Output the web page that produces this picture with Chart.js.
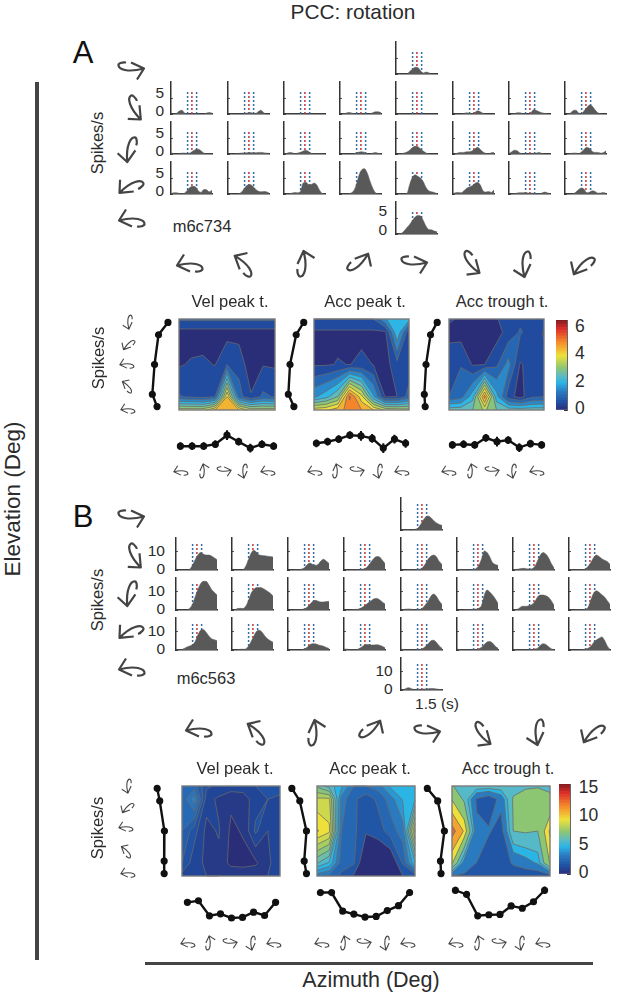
<!DOCTYPE html>
<html lang="en">
<head>
<meta charset="utf-8">
<title>PCC: rotation</title>
<script src="https://cdn.jsdelivr.net/npm/chart.js@4/dist/chart.umd.min.js"></script>
<style>
  html, body { margin: 0; padding: 0; background: #fff; }
  #lienzo { position: relative; width: 617px; height: 999px; overflow: hidden; font-family: "Liberation Sans", Arial, sans-serif; color: #2b2b2b; }
  #lienzo canvas, #lienzo svg { position: absolute; }
  .texto { position: absolute; white-space: nowrap; line-height: 1; }
  .barra { position: absolute; background: #444; }
</style>
</head>
<body>
<div id="lienzo"></div>
<script>
// ============================================================
// DATOS: ejes compartidos
// ============================================================
const elevaciones = [90, 45, 0, -45, -90];
const acimuts = [0, 45, 90, 135, 180, 225, 270, 315, 360];
const tiemposMarca = [0.81, 1.02, 1.25];
const etiquetasA = ['5', '0'];
const etiquetasB = ['10', '0'];
const ticksColorA = [0, 2, 4, 6];
const ticksColorB = [0, 5, 10, 15];
const nivelesA = [0.5, 1, 1.5, 2, 2.5, 3, 3.5, 4, 4.5, 5, 5.5, 6];
const nivelesB1 = [0.5, 1, 1.5, 2, 2.5, 3, 3.5, 4];
const nivelesB2 = [1.6, 2.4, 3.2, 4, 4.8, 5.6, 6.4, 7.2, 8, 8.8, 9.6, 10.4];
const nivelesB3 = [1.6, 3.2, 4.8, 5.8, 7.4, 9.6, 11.2, 12.8];

// ============================================================
// DATOS: PSTH de la neurona m6c734 (A)
// ============================================================
const psthA_arriba = [0, 0, 0, 0, 0, 0.8, 1.5, 2.1, 2, 1, 0.3, 0.6, 0.4, 0, 0, 0];
const psthA_fila1 = [
  [0, 0, 0.2, 0.9, 1.2, 0.3, 0, 0, 0.1, 0.1, 0, 0, 0, 0.3, 0.5, 0.3],
  [0, 0, 0, 0, 0, 0, 0.1, 0.3, 0.5, 0.3, 0.1, 0.7, 1.2, 0.5, 0, 0],
  [0, 0, 0, 0, 0, 0, 0, 0.1, 0.1, 0.1, 0, 0, 0, 0, 0, 0],
  [0, 0, 0.2, 0.5, 0.4, 0.1, 0, 0, 0.1, 0.1, 0, 0.1, 0.4, 0.7, 0.7, 0.4],
  [0, 0, 0, 0, 0, 0, 0, 0.1, 0.1, 0, 0, 0, 0, 0, 0, 0],
  [0, 0, 0, 0, 0.2, 0.4, 0.2, 0.1, 0.5, 1, 0.7, 0.2, 0, 0, 0, 0],
  [0, 0, 0.1, 0.4, 0.4, 0.1, 0, 0, 0.4, 1.3, 1.1, 0.7, 0.4, 0.2, 0.1, 0],
  [0, 0, 0.3, 1.1, 1.2, 0.3, 0.1, 1, 2, 2.8, 2.4, 1.3, 0.4, 0.1, 0, 0],
];
const psthA_fila2 = [
  [0.4, 0.1, 0, 0.1, 0.3, 0.3, 0.1, 0.3, 0.9, 1.4, 1.5, 1, 0.3, 0.1, 0.1, 0.1],
  [0, 0, 0, 0.1, 0.2, 0.3, 0.3, 0.4, 0.5, 0.4, 0.4, 0.5, 0.5, 0.4, 0.3, 0.2],
  [0, 0.2, 0.5, 0.4, 0.1, 0.3, 0.5, 0.9, 1.2, 0.8, 0.2, 0.1, 0.1, 0.1, 0.1, 0],
  [0, 0, 0, 0, 0, 0.1, 0.4, 0.6, 0.7, 0.5, 0.1, 0, 0.3, 0.5, 0.2, 0],
  [0, 0, 0.1, 0.3, 0.6, 1.2, 2, 2.4, 2.3, 1.6, 0.9, 0.3, 0.1, 0, 0, 0],
  [0, 0.1, 0.4, 0.5, 0.5, 0.7, 0.7, 1, 1.6, 2.1, 1.4, 0.6, 0.2, 0.1, 0.4, 0.5],
  [0.1, 0.7, 1.2, 1, 0.3, 0.1, 0, 0.1, 0.2, 0.2, 0.3, 0.5, 0.2, 0, 0, 0],
  [0, 0, 0.1, 0.3, 0.3, 0.1, 0.6, 1.5, 2.1, 1.7, 0.8, 0.5, 0.5, 0.3, 0.4, 1],
];
const psthA_fila3 = [
  [0.1, 0.4, 0.4, 0.2, 0.1, 0.3, 1.2, 2.1, 2.4, 2.2, 1, 0.5, 1.4, 1.3, 0.7, 1.2],
  [0, 0, 0, 0, 0.1, 0.6, 1.8, 2.7, 3, 2.5, 1.6, 0.9, 0.7, 0.8, 0.7, 0.3],
  [0, 0, 0.1, 0.3, 0.5, 0.4, 0.8, 3.4, 3.7, 3, 3, 3.4, 2.8, 1.2, 0.2, 0],
  [0, 0, 0, 0.1, 0.3, 1, 3, 6, 7.6, 7.9, 6.5, 4, 1.8, 0.4, 0.1, 0],
  [0, 0, 0, 0, 0.2, 3, 5.2, 6, 5.5, 5, 3.8, 2, 1, 0.7, 0.5, 0.1],
  [0.2, 0.4, 0.5, 0.4, 1, 1.8, 2.2, 2.6, 3.3, 3.7, 2.8, 1, 0.6, 0.8, 0.5, 1.3],
  [0, 0, 0.1, 0.3, 0.4, 0.4, 0.5, 0.3, 0.3, 0.2, 0.1, 0.1, 0.3, 0.6, 0.4, 0.1],
  [0, 0, 0, 0.1, 0.6, 1.4, 1.9, 1.5, 0.3, 0.6, 1, 0.8, 0.3, 0.3, 0.5, 0.2],
];
const psthA_abajo = [0, 0, 0.2, 1, 2, 3, 4.2, 5.3, 5.8, 5.6, 4.2, 2.4, 1.4, 1.3, 0.9, 0.7];

// ============================================================
// DATOS: PSTH de la neurona m6c563 (B)
// ============================================================
const psthB_arriba = [0.1, 0.1, 0.3, 0.2, 0.2, 0.3, 0.8, 2.5, 5, 7, 7.5, 6.5, 5, 3.8, 3, 2.5];
const psthB_fila1 = [
  [0, 0, 0, 0, 0, 0.4, 2.5, 5.5, 8, 9.4, 8.5, 8, 8, 7.5, 6.5, 5.5],
  [0, 0, 0, 0, 0.2, 2, 5.5, 9, 10.5, 9.5, 8, 7.8, 7.6, 7.4, 7.2, 7],
  [0, 0, 0, 0.1, 0.2, 0.5, 1.2, 2.8, 3.7, 3, 2.6, 3, 4.8, 5.8, 4.8, 3.5],
  [0, 0, 0, 0.1, 0.1, 0.2, 0.2, 0.5, 1, 2.5, 4.5, 6.3, 7.2, 7, 5.3, 3.5],
  [0, 0, 0, 0.1, 0.2, 0.2, 0.3, 0.5, 1.5, 3.5, 6, 7.5, 8, 7, 4.5, 3],
  [0.3, 0.3, 0.2, 0.2, 0.2, 0.2, 0.3, 0.8, 2.5, 6, 10.2, 9.3, 7, 4, 3, 2.5],
  [0.2, 0.3, 0.5, 0.8, 0.9, 0.7, 0.5, 0.7, 2, 5, 8, 9.3, 8.5, 6.5, 3.5, 1.2],
  [0, 0.1, 0.1, 0.2, 0.2, 0.2, 0.5, 2, 4, 6.5, 8, 7.2, 6, 5.2, 4.5, 3],
];
const psthB_fila2 = [
  [0, 0, 0, 0, 0, 1, 3, 7, 11, 14, 15.3, 15.3, 13.5, 11, 9.5, 8],
  [0, 0.1, 0.8, 0.9, 0.8, 2, 5, 9, 11, 12, 12, 11.8, 11, 10, 9, 7.5],
  [0, 0, 0, 0.1, 0.1, 0.3, 0.6, 1.5, 3, 4.5, 5.2, 4.7, 4.3, 4.3, 4.5, 4.6],
  [0, 0, 0, 0.2, 0.3, 0.4, 0.9, 1.7, 2.8, 4, 5, 6, 6.2, 5.5, 4.3, 3.2],
  [0.1, 0.3, 0.5, 0.6, 0.3, 0.1, 0.2, 0.4, 1.2, 3, 5, 7.5, 8.5, 7.2, 4.8, 3],
  [0, 0, 0, 0.2, 0.3, 0.3, 0.3, 0.5, 1, 2.5, 8, 10.7, 9.6, 8, 6, 3.5],
  [0.1, 0.2, 0.7, 1.8, 2, 2, 2.4, 3, 4.5, 7, 8, 8, 7.6, 6.8, 5, 2.5],
  [0, 0, 0, 0.1, 0.2, 0.2, 0.4, 1.5, 5.5, 9, 10.3, 9.5, 8.2, 7, 5, 3],
];
const psthB_fila3 = [
  [0.1, 0.2, 0.3, 0.8, 1.6, 2.2, 2.8, 4.5, 8, 10.5, 10.9, 9.5, 7.5, 6, 5.5, 5],
  [0, 0, 0.1, 0.4, 0.4, 0.6, 2, 4.5, 7.5, 10, 10.5, 9.5, 7.5, 6, 5, 4.2],
  [0, 0, 0, 0, 0, 0.2, 0.5, 1.5, 2.8, 3.4, 3.3, 2.8, 2.4, 2, 1.4, 0.8],
  [0.5, 0.5, 0.2, 0.1, 0.1, 0.4, 1.2, 2.2, 3, 3, 2.7, 2.7, 2.8, 2.6, 2, 1.2],
  [0.4, 0.3, 0.1, 0.1, 0.1, 0.1, 0.2, 0.4, 0.8, 2, 3.5, 5, 5.2, 4, 2.2, 1],
  [0.5, 0.2, 0.1, 0.1, 0.1, 0.1, 0.2, 0.3, 0.7, 1.5, 3, 4.3, 4.6, 3.7, 2, 1],
  [0.2, 0.1, 0.1, 0.1, 0.1, 0.2, 0.2, 0.3, 0.5, 1, 2.5, 3.4, 3, 1.8, 0.7, 0.1],
  [0, 0, 0, 0, 0.1, 0.2, 0.5, 1, 2, 4, 5.3, 6.3, 7, 5.2, 2.2, 0.3],
];
const psthB_abajo = [0.2, 0.2, 1, 1.2, 0.6, 0.3, 0.4, 0.4, 0.5, 0.6, 0.7, 0.8, 0.8, 0.6, 0.3, 0.2];

// ============================================================
// DATOS: matrices de contorno (filas = elevación, col = acimut)
// ============================================================
const contornoA1 = [
  [1.1, 1.1, 1.1, 1.1, 1.1, 1.1, 1.1, 1.1, 1.1],
  [0.3, 0.3, 0.3, 0.3, 0.3, 0.3, 0.3, 0.3, 0.3],
  [0.45, 0.55, 0.58, 0.48, 1, 0.83, 0.15, 0.47, 0.44],
  [1.05, 0.9, 0.8, 1, 4.5, 1.2, 0.55, 1.1, 0.95],
  [3.8, 3.8, 3.8, 4.5, 4.9, 4.5, 3.8, 3.8, 3.8],
];
const contornoA2 = [
  [1, 1, 1, 1, 1, 1, 1.95, 2.4, 2.2],
  [0.4, 0.4, 0.4, 0.4, 0.4, 0.4, 0.4, 2.45, 0.6],
  [0.45, 0.45, 0.525, 0.49, 0.585, 0.49, 0.3, 0.8, 0.7],
  [1.9, 2.3, 3, 5.6, 4.2, 2.1, 0.45, 0.5, 1.2],
  [4.3, 4.4, 4.8, 5.2, 5, 4.5, 3.9, 3.8, 3.7],
];
const contornoA3 = [
  [0.6, 0.4, 0.4, 0.4, 0.45, 0.8, 0.9, 0.8, 0.7],
  [0.3, 0.3, 0.3, 0.3, 0.3, 0.7, 1.05, 0.8, 0.45],
  [0.9, 0.97, 0.45, 0.5, 0.9, 1.7, 0.45, 0.7, 0.7],
  [1, 1.3, 2.3, 5.2, 2.2, 0.7, 0.3, 0.9, 1],
  [2.8, 2.8, 3, 3.6, 3, 2.8, 2.8, 2.8, 2.8],
];
const contornoB1 = [
  [2.5, 2.7, 1.6, 1.4, 1.3, 1.3, 1.5, 1.7, 1.7],
  [2.6, 3.8, 1.2, 0.9, 0.6, 0.7, 1.3, 1.5, 1.4],
  [2.5, 1.7, 0.85, 1.05, 0.4, 0.55, 1.6, 1, 1.3],
  [2, 1.2, 0.9, 0.85, 0.35, 0.35, 0.4, 0.9, 1.3],
  [1.3, 1.1, 1, 1, 0.9, 0.8, 0.9, 1, 1.2],
];
const contornoB2 = [
  [7, 6, 5, 3.2, 3.2, 3.6, 5, 5, 5],
  [9, 9, 3.6, 2.6, 1.9, 2.6, 3.6, 4.9, 5.5],
  [10.5, 9.8, 3.2, 2.6, 1.7, 2, 2.8, 3.6, 9.8],
  [6.5, 5.5, 2.8, 2.5, 0.6, 0.5, 0.7, 2.5, 5.5],
  [3.5, 3, 2.2, 1.5, 0.7, 0.7, 0.7, 1.6, 1.7],
];
const contornoB3 = [
  [7.6, 6, 6.7, 6.7, 6.7, 6.7, 7.2, 7.3, 7.2],
  [9.5, 7, 3, 2, 3.8, 7.6, 8, 8, 7.6],
  [13.5, 11, 3.5, 3.4, 2.4, 7.4, 7.6, 7.4, 11.5],
  [9.9, 4, 3.2, 2, 2, 3.5, 4.2, 5, 9.8],
  [3.2, 3, 2, 1.9, 1.9, 1.9, 2, 2, 2.4],
];

// ============================================================
// DATOS: curvas de sintonía (marginales)
// ============================================================
const elevA1 = [4.66, 2.4, 1.46, 0.94, 2.06];
const elevA2 = [4.6, 2.8, 1.34, 0.94, 2.26];
const elevA3 = [4, 2.4, 1.34, 0.94, 1.14];
const elevB1 = [1.14, 1.74, 2.86, 2.8, 2.8];
const elevB2 = [1.06, 2.94, 4.54, 4, 4.54];
const elevB3 = [0.94, 3.4, 5, 4.06, 4.2];
const aziA1 = [0.97, 0.97, 0.97, 1.17, 2.1, 1.43, 0.77, 1.17, 0.97];
const aziA2 = [1.27, 1.43, 1.7, 2.1, 2.03, 1.77, 0.77, 1.7, 1.27];
const aziA3 = [1.1, 1.17, 1.1, 1.83, 1.43, 1.6, 0.83, 1.23, 1.1];
const aziB1 = [5.28, 5.65, 2.09, 2.56, 1.56, 1.7, 2.95, 2.16, 5.28];
const aziB2 = [7.6, 7.6, 3.19, 2.49, 1.79, 1.93, 3.33, 4.49, 7.6];
const aziB3 = [8.14, 7.14, 2.09, 2.33, 2.4, 4.42, 3.88, 5.42, 8.14];
const errorAziA = [0.4, 0.4, 0.4, 0.4, 0.5, 0.4, 0.45, 0.4, 0.4];
const errorAziA2 = [0.4, 0.4, 0.4, 0.4, 0.5, 0.45, 0.5, 0.45, 0.45];
const errorAziB1 = [0.2, 0.2, 0.2, 0.2, 0.2, 0.2, 0.2, 0.2, 0.4];
const errorAziB2 = [0.6, 0.6, 0.2, 0.2, 0.3, 0.2, 0.3, 0.3, 0.7];
const errorAziB3 = [0.8, 0.7, 0.3, 0.2, 0.2, 0.5, 0.4, 0.6, 0.9];

// ============================================================
// COLOR
// ============================================================
const paradas = [
  [0, [42, 45, 120]], [0.08, [31, 77, 161]], [0.2, [42, 121, 192]], [0.3, [42, 181, 230]],
  [0.37, [90, 185, 198]], [0.47, [143, 199, 111]], [0.6, [239, 225, 58]], [0.75, [245, 138, 43]],
  [0.9, [220, 43, 40]], [1, [124, 26, 30]],
];

function colorMapa(f) {
  const t = Math.min(1, Math.max(0, f));
  for (let i = 1; i < paradas.length; i++) {
    if (t <= paradas[i][0]) {
      const [t0, c0] = paradas[i - 1];
      const [t1, c1] = paradas[i];
      const u = (t - t0) / (t1 - t0);
      return `rgb(${c0.map((c, k) => Math.round(c + (c1[k] - c) * u)).join(',')})`;
    }
  }
  return 'rgb(124,26,30)';
}

// ============================================================
// PLUGINS
// ============================================================
// Relleno por bandas: cada celda del grid se recorta contra el
// nivel y se acumula en un solo path, así no salen costuras.
const pluginContorno = {
  id: 'contorno',
  beforeDatasetsDraw(chart, args, opts) {
    const { matriz, niveles, maximo } = opts;
    if (!matriz) return;
    const { ctx, chartArea: a } = chart;
    const px = chart.scales.x;
    const py = chart.scales.y;
    const filas = elevaciones.map(e => py.getPixelForValue(Math.sin(e * Math.PI / 180)));
    const cols = acimuts.map(v => px.getPixelForValue(v));

    ctx.save();
    ctx.fillStyle = colorMapa(0);
    ctx.fillRect(a.left, a.top, a.width, a.height);

    const lineas = [];
    niveles.forEach(nivel => {
      ctx.beginPath();
      for (let f = 0; f < filas.length - 1; f++) {
        for (let c = 0; c < cols.length - 1; c++) {
          const esquinas = [
            [cols[c], filas[f], matriz[f][c]],
            [cols[c + 1], filas[f], matriz[f][c + 1]],
            [cols[c + 1], filas[f + 1], matriz[f + 1][c + 1]],
            [cols[c], filas[f + 1], matriz[f + 1][c]],
          ];
          const poligono = [];
          const cruces = [];
          esquinas.forEach((p, i) => {
            const q = esquinas[(i + 1) % 4];
            if (p[2] >= nivel) poligono.push(p);
            if ((p[2] >= nivel) !== (q[2] >= nivel)) {
              const u = (nivel - p[2]) / (q[2] - p[2]);
              const punto = [p[0] + (q[0] - p[0]) * u, p[1] + (q[1] - p[1]) * u, p[2] >= nivel];
              poligono.push(punto);
              cruces.push(punto);
            }
          });
          if (poligono.length < 3) continue;
          poligono.forEach((p, i) => (i ? ctx.lineTo(p[0], p[1]) : ctx.moveTo(p[0], p[1])));
          ctx.closePath();
          // cruces[i][2] = true cuando la frontera sale de la zona alta
          const inicio = cruces.findIndex(p => p[2]);
          for (let i = 0; i < cruces.length; i += 2) {
            lineas.push([cruces[(inicio + i) % cruces.length], cruces[(inicio + i + 1) % cruces.length]]);
          }
        }
      }
      ctx.fillStyle = colorMapa(nivel / maximo);
      ctx.fill();
    });

    ctx.beginPath();
    lineas.forEach(([p, q]) => { ctx.moveTo(p[0], p[1]); ctx.lineTo(q[0], q[1]); });
    ctx.strokeStyle = 'rgba(105,105,105,0.85)';
    ctx.lineWidth = 0.9;
    ctx.stroke();

    ctx.strokeStyle = '#7a7a7a';
    ctx.lineWidth = 1.4;
    ctx.strokeRect(a.left, a.top, a.width, a.height);
    ctx.restore();
  },
};

const pluginErrores = {
  id: 'errores',
  afterDatasetsDraw(chart) {
    const { ctx } = chart;
    const ds = chart.data.datasets[0];
    if (!ds.errores) return;
    ctx.save();
    ctx.strokeStyle = '#111';
    ctx.lineWidth = 2;
    ctx.beginPath();
    ds.data.forEach((p, i) => {
      const x = chart.scales.x.getPixelForValue(p.x);
      const e = ds.errores[i];
      ctx.moveTo(x, chart.scales.y.getPixelForValue(p.y + e));
      ctx.lineTo(x, chart.scales.y.getPixelForValue(p.y - e));
    });
    ctx.stroke();
    ctx.restore();
  },
};

// ============================================================
// HELPERS DE DIBUJO
// ============================================================
const lienzo = document.getElementById('lienzo');

function crearChart(x, y, ancho, alto, pad, config) {
  const canvas = document.createElement('canvas');
  canvas.width = ancho + pad.left + pad.right;
  canvas.height = alto + pad.top + pad.bottom;
  canvas.style.left = `${x - pad.left}px`;
  canvas.style.top = `${y - pad.top}px`;
  lienzo.appendChild(canvas);
  config.options = {
    responsive: false,
    animation: false,
    events: [],
    layout: { padding: pad },
    ...config.options,
  };
  config.options.plugins = { legend: { display: false }, tooltip: { enabled: false }, ...config.options.plugins };
  return new Chart(canvas, config);
}

// Las etiquetas son texto suelto: en la figura original van
// colocadas a mano y no centradas sobre su tick.
function yEnPagina(chart, valor) {
  return chart.scales.y.getPixelForValue(valor) + parseFloat(chart.canvas.style.top);
}

function crearPsth(x, base, valores, eje) {
  const n = valores.length;
  const puntos = valores.map((v, i) => ({ x: i * 2 / (n - 1), y: v }));
  const marcas = tiemposMarca.map((t, i) => ({
    data: [{ x: t, y: 0 }, { x: t, y: eje.marca }],
    borderColor: i === 1 ? '#c8343c' : '#2f6ea8',
    borderWidth: 1.5,
    borderDash: [2, 2],
    pointRadius: 0,
    order: 2,
  }));
  const alto = 32;
  const chart = crearChart(x, base - alto, 41, alto, { left: 2, right: 1, top: 1, bottom: 2 }, {
    type: 'line',
    data: {
      datasets: [
        {
          data: puntos,
          fill: 'origin',
          backgroundColor: '#595959',
          borderColor: '#595959',
          borderWidth: 0.5,
          pointRadius: 0,
          cubicInterpolationMode: 'monotone',
          order: 1,
        },
        ...marcas,
      ],
    },
    options: {
      scales: {
        x: {
          type: 'linear', min: 0, max: 2,
          border: { color: '#333', width: 1.5 },
          grid: { display: false },
          ticks: { display: false },
          afterFit: s => { s.height = 0; },
        },
        y: {
          type: 'linear', min: 0, max: eje.max,
          border: { color: '#333', width: 1.5 },
          grid: { drawOnChartArea: false, tickLength: -2, color: '#555', lineWidth: 1 },
          ticks: { display: false },
          afterBuildTicks: s => { s.ticks = [{ value: 0 }, { value: eje.tick }]; },
          afterFit: s => { s.width = 0; },
        },
      },
    },
  });
  if (eje.etiquetas) {
    const finX = x - eje.hueco;
    texto(eje.textos[0], finX, yEnPagina(chart, eje.tick) + eje.ajuste[0], 15.5, { ancla: 'right' });
    texto(eje.textos[1], finX, yEnPagina(chart, 0) + eje.ajuste[1], 15.5, { ancla: 'right' });
  }
}

function crearContorno(x, y, ancho, alto, matriz, niveles, maximo) {
  crearChart(x, y, ancho, alto, { left: 1, right: 1, top: 1, bottom: 1 }, {
    type: 'scatter',
    data: { datasets: [{ data: [], pointRadius: 0 }] },
    plugins: [pluginContorno],
    options: {
      plugins: { contorno: { matriz, niveles, maximo } },
      scales: {
        x: { type: 'linear', display: false, min: acimuts[0], max: acimuts[acimuts.length - 1] },
        y: { type: 'linear', display: false, min: -1, max: 1 },
      },
    },
  });
}

function crearElevacion(x, y, ancho, alto, valores) {
  crearChart(x, y, ancho, alto, { left: 4, right: 4, top: 4, bottom: 4 }, {
    type: 'line',
    data: {
      datasets: [{
        data: valores.map((v, i) => ({ x: v, y: Math.sin(elevaciones[i] * Math.PI / 180) })),
        borderColor: '#111',
        backgroundColor: '#111',
        borderWidth: 2.4,
        pointRadius: 2.4,
        tension: 0,
        clip: false,
      }],
    },
    options: {
      scales: {
        x: { type: 'linear', display: false, min: 0, max: ancho / 5 },
        y: { type: 'linear', display: false, min: -1, max: 1 },
      },
    },
  });
}

function crearAcimut(x, y, ancho, alto, valores, errores, maxY) {
  crearChart(x, y, ancho, alto, { left: 5, right: 5, top: 6, bottom: 6 }, {
    type: 'line',
    data: {
      datasets: [{
        data: valores.map((v, i) => ({ x: acimuts[i], y: v })),
        errores,
        borderColor: '#111',
        backgroundColor: '#111',
        borderWidth: 2.4,
        pointRadius: 2.4,
        tension: 0,
        clip: false,
      }],
    },
    plugins: [pluginErrores],
    options: {
      scales: {
        x: { type: 'linear', display: false, min: acimuts[0], max: acimuts[acimuts.length - 1] },
        y: { type: 'linear', display: false, min: 0, max: maxY },
      },
    },
  });
}

function crearBarraColor(x, y, ancho, alto, maximo, ticksBarra, xTexto) {
  const pasos = 60;
  const datasets = [];
  for (let i = 0; i < pasos; i++) {
    datasets.push({
      data: [maximo / pasos],
      backgroundColor: colorMapa((i + 0.5) / pasos),
      borderWidth: 0,
      barPercentage: 1,
      categoryPercentage: 1,
    });
  }
  const chart = crearChart(x, y, ancho, alto, { left: 1, right: 1, top: 1, bottom: 1 }, {
    type: 'bar',
    data: { labels: [''], datasets },
    options: {
      scales: {
        x: { stacked: true, display: false },
        y: {
          stacked: true, position: 'right', min: 0, max: maximo,
          border: { color: '#666', width: 1 },
          grid: { drawOnChartArea: false, tickLength: -3, color: '#333' },
          ticks: { display: false },
          afterBuildTicks: s => { s.ticks = ticksBarra.map(value => ({ value })); },
          afterFit: s => { s.width = 0; },
        },
      },
    },
  });
  ticksBarra.forEach(v => texto(String(v), xTexto, yEnPagina(chart, v) - 1, 17.5, { ancla: 'left' }));
}

function texto(cadena, x, y, size, extra = {}) {
  const el = document.createElement('div');
  el.className = 'texto';
  el.textContent = cadena;
  el.style.left = `${x}px`;
  el.style.top = `${y}px`;
  el.style.fontSize = `${size}px`;
  const dx = extra.ancla === 'right' ? '-100%' : extra.ancla === 'left' ? '0' : '-50%';
  el.style.transform = `translate(${dx},-50%) rotate(${extra.giro || 0}deg)`;
  if (extra.color) el.style.color = extra.color;
  lienzo.appendChild(el);
}

function flecha(x, y, giro, escala = 1) {
  const ns = 'http://www.w3.org/2000/svg';
  const svg = document.createElementNS(ns, 'svg');
  const lado = 40 * escala;
  svg.setAttribute('width', lado);
  svg.setAttribute('height', lado);
  svg.setAttribute('viewBox', '-20 -20 40 40');
  svg.style.left = `${x - lado / 2}px`;
  svg.style.top = `${y - lado / 2}px`;
  const path = document.createElementNS(ns, 'path');
  path.setAttribute('d', 'M-5,-7.5 C-9,-8 -13,-6.5 -12.5,-4.5 C-12,-1 -4,3 13,-1.5 M0,-7.5 L13,-1.5 L6,9.5');
  path.setAttribute('fill', 'none');
  path.setAttribute('stroke', '#444');
  path.setAttribute('stroke-width', escala < 1 ? 2 : 2.2);
  path.setAttribute('stroke-linejoin', 'round');
  path.setAttribute('transform', `rotate(${giro})`);
  svg.appendChild(path);
  lienzo.appendChild(svg);
}

function barra(x, y, ancho, alto) {
  const el = document.createElement('div');
  el.className = 'barra';
  el.style.cssText = `left:${x}px;top:${y}px;width:${ancho}px;height:${alto}px`;
  lienzo.appendChild(el);
}

// ============================================================
// PANEL A
// ============================================================
const ejeA = { max: 10, tick: 5, marca: 7.2, textos: etiquetasA, hueco: 7, ajuste: [-5, -3] };
const ejeB = { max: 17.1, tick: 10, marca: 14.8, textos: etiquetasB, hueco: 10.7, ajuste: [0, -1] };
const columnasA = [171, 227.5, 284, 340, 396, 452.5, 509, 565];
const columnasB = [175.7, 231.7, 288, 344, 400.7, 456.7, 513, 569];

crearPsth(396, 74, psthA_arriba, ejeA);
[psthA_fila1, psthA_fila2, psthA_fila3].forEach((fila, f) => {
  fila.forEach((valores, c) => {
    crearPsth(columnasA[c], 114 + f * 40, valores, { ...ejeA, etiquetas: c === 0 });
  });
});
crearPsth(396, 233.6, psthA_abajo, { ...ejeA, etiquetas: true, hueco: 9, ajuste: [-6.6, -3.6] });

crearContorno(179, 319, 96, 91, contornoA1, nivelesA, 6.6);
crearContorno(313.7, 319, 95.6, 91, contornoA2, nivelesA, 6.6);
crearContorno(448.7, 319, 95.3, 91, contornoA3, nivelesA, 6.6);
crearBarraColor(556, 320, 11, 90, 6.6, ticksColorA, 575);

crearElevacion(146, 320, 30, 89, elevA1);
crearElevacion(282, 320, 30, 89, elevA2);
crearElevacion(418, 320, 30, 89, elevA3);
crearAcimut(179, 428, 96, 28, aziA1, errorAziA, 2.8);
crearAcimut(315.3, 428, 92, 28, aziA2, errorAziA2, 2.8);
crearAcimut(450.7, 428, 92, 28, aziA3, errorAziA, 2.8);

// ============================================================
// PANEL B
// ============================================================
crearPsth(400.7, 530, psthB_arriba, ejeB);
[psthB_fila1, psthB_fila2, psthB_fila3].forEach((fila, f) => {
  fila.forEach((valores, c) => {
    crearPsth(columnasB[c], 570 + f * 40, valores, { ...ejeB, etiquetas: c === 0 });
  });
});
crearPsth(400.7, 689.5, psthB_abajo, { ...ejeB, etiquetas: true, hueco: 8 });

crearContorno(182.3, 785.7, 98.4, 90.3, contornoB1, nivelesB1, 15.9);
crearContorno(317, 785.7, 98, 90.3, contornoB2, nivelesB2, 15.9);
crearContorno(451.7, 785.7, 98.3, 90.3, contornoB3, nivelesB3, 15.9);
crearBarraColor(559, 784, 11, 90.5, 15.9, ticksColorB, 578.7);

crearElevacion(150, 785.7, 30, 90.3, elevB1);
crearElevacion(285, 785.7, 30, 90.3, elevB2);
crearElevacion(421, 785.7, 30, 90.3, elevB3);
crearAcimut(185.7, 882, 91, 43, aziB1, errorAziB1, 10);
crearAcimut(318.7, 882, 92, 43, aziB2, errorAziB2, 10);
crearAcimut(454, 882, 92.3, 43, aziB3, errorAziB3, 10);

// ============================================================
// TEXTOS Y FLECHAS
// ============================================================
texto('PCC: rotation', 353, 12, 20.8);
texto('A', 83, 52, 31, { color: '#111' });
texto('B', 83, 516, 31, { color: '#111' });
texto('Elevation (Deg)', 13, 499, 22.5, { giro: -90 });
texto('Azimuth (Deg)', 371, 981, 21.5);
texto('Spikes/s', 97, 143, 16.5, { giro: -90 });
texto('Spikes/s', 97, 600, 16.5, { giro: -90 });
texto('Spikes/s', 98, 358, 16.5, { giro: -90 });
texto('Spikes/s', 97, 828, 16.5, { giro: -90 });
texto('m6c734', 202, 226, 16.5);
texto('m6c563', 206, 678, 16.5);
texto('1.5 (s)', 437, 704, 15.5);
texto('Vel peak t.', 230, 301, 16.5);
texto('Acc peak t.', 365, 301, 16.5);
texto('Acc trough t.', 502, 301, 16.5);
texto('Vel peak t.', 235, 768, 16.5);
texto('Acc peak t.', 370, 768, 16.5);
texto('Acc trough t.', 508, 768, 16.5);

barra(35, 82, 3.5, 878);
barra(144.5, 961.7, 448.5, 3.3);

const girosFila = [180, 225, 270, 315, 0, 50, 90, 135];
const girosColumna = [0, 60, 100, 150, 180];
const girosChicosCol = [90, 135, 180, 225, 180];
const girosChicosFila = [180, 270, 0, 90, 180];

[[131, 70], [133, 109], [128, 149], [130, 185], [132, 219]].forEach(([x, y], i) => flecha(x, y, girosColumna[i]));
[[131, 518], [133, 557], [128, 593], [130, 630], [132, 668]].forEach(([x, y], i) => flecha(x, y, girosColumna[i]));
[190, 245, 305, 360, 414, 470, 523, 582].forEach((x, i) => flecha(x, 264, girosFila[i]));
[[199, 729], [258, 732], [316, 733], [372, 731], [427, 733], [481, 735], [536, 732], [592, 732]]
  .forEach(([x, y], i) => flecha(x, y, girosFila[i]));

[[128, 322], [128, 344], [127, 364], [128, 386], [128, 409]].forEach(([x, y], i) => flecha(x, y, girosChicosCol[i], 0.55));
[[127, 786], [127, 807], [126, 827], [127, 851], [128, 873]].forEach(([x, y], i) => flecha(x, y, girosChicosCol[i], 0.55));
[
  [181, 204, 224, 243, 268], [315, 337, 357, 378, 402], [449, 472, 492, 512, 537],
].forEach(fila => fila.forEach((x, i) => flecha(x, 471, girosChicosFila[i], 0.55)));
[
  [188, 210, 230, 251, 274], [322, 345, 364, 385, 408], [456, 479, 499, 520, 543],
].forEach(fila => fila.forEach((x, i) => flecha(x, 943, girosChicosFila[i], 0.55)));
</script>
</body>
</html>
